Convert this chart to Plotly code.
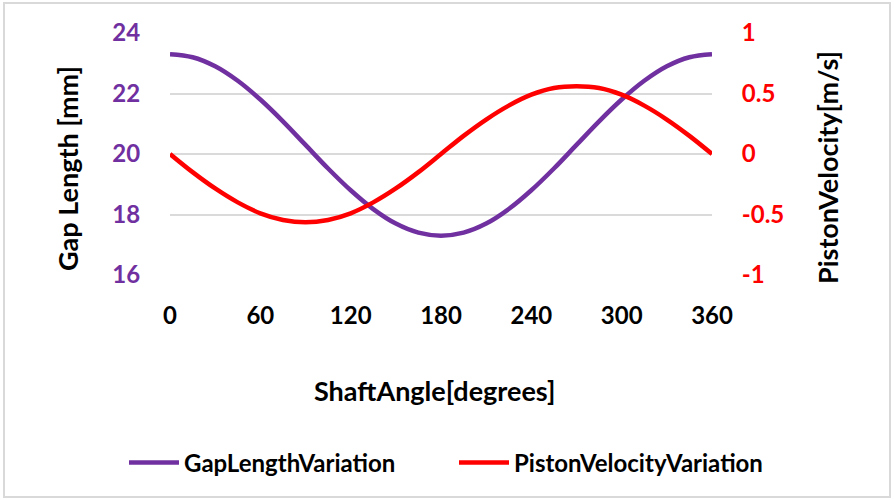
import plotly.graph_objects as go

# Data
shaft_angle = [0, 15, 30, 45, 60, 75, 90, 105, 120, 135, 150, 165, 180,
               195, 210, 225, 240, 255, 270, 285, 300, 315, 330, 345, 360]
gap_length = [23.30, 23.20, 22.90, 22.42, 21.80, 21.08, 20.30, 19.52, 18.80, 18.18,
              17.70, 17.40, 17.30, 17.40, 17.70, 18.18, 18.80, 19.52, 20.30, 21.08,
              21.80, 22.42, 22.90, 23.20, 23.30]
piston_velocity = [0.0, -0.15, -0.285, -0.40, -0.49, -0.545, -0.565, -0.545, -0.49, -0.40,
                   -0.285, -0.15, 0.0, 0.15, 0.285, 0.40, 0.49, 0.545, 0.56, 0.545,
                   0.49, 0.40, 0.285, 0.15, 0.0]
x_ticks = [0, 60, 120, 180, 240, 300, 360]
left_ticks = [16, 18, 20, 22, 24]
right_ticks = [-1, -0.5, 0, 0.5, 1]
right_tick_text = ["-1", "-0.5", "0", "0.5", "1"]
right_inner_grid = [-0.5, 0, 0.5]

PURPLE = "#7030A0"
RED = "#FF0000"
FONT = "Lato"

W, H = 894, 500
L, R, T, B = 170, 182, 33, 225
PW, PH = W - L - R, H - T - B

def px(x):
    return (x - L) / PW

def py(y):
    return (H - B - y) / PH

fig = go.Figure()
fig.add_trace(go.Scatter(x=shaft_angle, y=gap_length, name="GapLengthVariation",
                         mode="lines", line=dict(color=PURPLE, width=4.5, shape="spline"),
                         yaxis="y"))
fig.add_trace(go.Scatter(x=shaft_angle, y=piston_velocity, name="PistonVelocityVariation",
                         mode="lines", line=dict(color=RED, width=4.5, shape="spline"),
                         yaxis="y2"))

fig.update_layout(
    width=W, height=H, autosize=False,
    margin=dict(l=L, r=R, t=T, b=B),
    paper_bgcolor="white", plot_bgcolor="white",
    font=dict(family=FONT, weight="bold", color="black"),
    xaxis=dict(range=[0, 360], tickvals=x_ticks, showgrid=False, zeroline=False,
               showline=False, ticks="outside", ticklen=19, tickcolor="rgba(0,0,0,0)",
               tickfont=dict(family=FONT, size=24, color="black", weight="bold")),
    yaxis=dict(range=[16, 24], tickvals=left_ticks, showgrid=True, gridcolor="#dadada",
               gridwidth=2, zeroline=False, showline=False, ticks="outside", ticklen=24,
               tickcolor="rgba(0,0,0,0)",
               tickfont=dict(family=FONT, size=24, color=PURPLE, weight="bold")),
    yaxis2=dict(range=[-1, 1], tickvals=right_ticks, ticktext=right_tick_text,
                overlaying="y", side="right", showgrid=False, zeroline=False,
                showline=False, ticks="outside", ticklen=24, tickcolor="rgba(0,0,0,0)",
                minor=dict(tickvals=right_inner_grid, showgrid=True, gridcolor="#b8b8b8",
                           gridwidth=1.5, ticks=""),
                tickfont=dict(family=FONT, size=24, color=RED, weight="bold")),
    showlegend=True,
    legend=dict(orientation="h", x=px(124), xanchor="left", y=py(463), yanchor="middle",
                font=dict(family=FONT, size=24, color="black", weight="bold"),
                itemwidth=50, bgcolor="rgba(0,0,0,0)", entrywidth=265,
                entrywidthmode="pixels"),
    annotations=[
        dict(text="ShaftAngle[degrees]", x=px(434), y=py(390), xref="paper", yref="paper",
             showarrow=False, xanchor="center", yanchor="middle",
             font=dict(family=FONT, size=27, color="black", weight="bold")),
        dict(text="Gap Length [mm]", x=px(67), y=py(169), xref="paper", yref="paper",
             showarrow=False, xanchor="center", yanchor="middle", textangle=-90,
             font=dict(family=FONT, size=27, color="black", weight="bold")),
        dict(text="PistonVelocity[m/s]", x=px(827), y=py(168), xref="paper", yref="paper",
             showarrow=False, xanchor="center", yanchor="middle", textangle=-90,
             font=dict(family=FONT, size=27, color="black", weight="bold")),
    ],
    shapes=[
        dict(type="rect", xref="paper", yref="paper", x0=px(4), x1=px(890), y0=py(497), y1=py(3),
             line=dict(color="#d9d9d9", width=2), fillcolor="rgba(0,0,0,0)", layer="below"),
    ],
)

fig.write_html("out.html")
